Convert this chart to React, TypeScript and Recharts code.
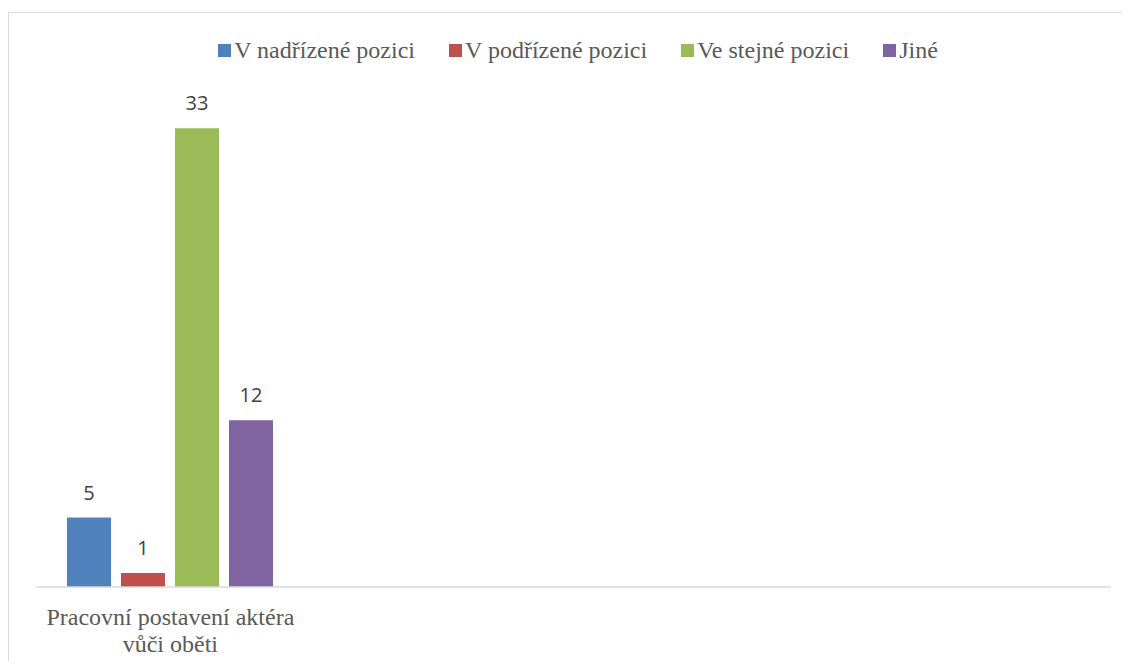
import React from "react";
import { BarChart, Bar, XAxis, YAxis, Legend, LabelList } from "recharts";

const categories = ["Pracovní postavení aktéra vůči oběti", " ", "  ", "   "];
const seriesNames = ["V nadřízené pozici", "V podřízené pozici", "Ve stejné pozici", "Jiné"];
const nadrizene = [5, null, null, null];
const podrizene = [1, null, null, null];
const stejne = [33, null, null, null];
const jine = [12, null, null, null];
const colors = ["#4F81BD", "#C0504D", "#9BBB59", "#8064A2"];

const keys = ["s0", "s1", "s2", "s3"];

const data = categories.map((c, i) => ({
  name: c,
  s0: nadrizene[i],
  s1: podrizene[i],
  s2: stejne[i],
  s3: jine[i],
}));

const SERIF = "Liberation Serif";
const SANS = "Open Sans";

function wrap(text: string, max: number): string[] {
  const words = text.split(" ").filter((w) => w.length > 0);
  const lines: string[] = [];
  let cur = "";
  for (const w of words) {
    const cand = cur ? cur + " " + w : w;
    if (cand.length > max && cur) {
      lines.push(cur);
      cur = w;
    } else {
      cur = cand;
    }
  }
  if (cur) lines.push(cur);
  return lines;
}

const CategoryTick = (props: any) => {
  const { x, y, payload } = props;
  const lines = wrap(String(payload.value || ""), 26);
  return (
    <g>
      {lines.map((l, i) => (
        <text
          key={i}
          x={x}
          y={y + 30 + i * 27}
          textAnchor="middle"
          fill="#595959"
          style={{ fontFamily: SERIF, fontSize: 24 }}
        >
          {l}
        </text>
      ))}
    </g>
  );
};

const ValueLabel = (props: any) => {
  const { x, y, width, value } = props;
  if (value === null || value === undefined) return null;
  return (
    <text
      x={x + width / 2}
      y={y - 18}
      textAnchor="middle"
      fill="#404040"
      style={{ fontFamily: SANS, fontSize: 20 }}
    >
      {value}
    </text>
  );
};

const LegendContent = () => (
  <div
    style={{
      display: "flex",
      justifyContent: "center",
      alignItems: "center",
      height: 28,
      paddingLeft: 18,
      boxSizing: "border-box",
    }}
  >
    {seriesNames.map((n, i) => (
      <div
        key={n}
        style={{
          display: "flex",
          alignItems: "center",
          marginRight: i < seriesNames.length - 1 ? 34 : 0,
        }}
      >
        <div style={{ width: 13, height: 13, background: colors[i], marginRight: 3 }} />
        <span style={{ fontFamily: SERIF, fontSize: 24, color: "#595959", whiteSpace: "nowrap" }}>{n}</span>
      </div>
    ))}
  </div>
);

export default function App() {
  return (
    <div style={{ width: 1122, height: 653, overflow: "hidden" }}>
      <div
        style={{
          marginTop: 4,
          width: 1130,
          height: 660,
          border: "1px solid #d9d9d9",
          background: "#fff",
        }}
      >
        <BarChart
          width={1120}
          height={650}
          data={data}
          margin={{ top: 59.5, right: 18, bottom: 6, left: 27 }}
          barCategoryGap={31}
          barGap={10}
        >
          <Legend
            verticalAlign="top"
            align="center"
            content={<LegendContent />}
            wrapperStyle={{ top: 23, left: 0, width: 1120, height: 28 }}
          />
          <XAxis
            dataKey="name"
            axisLine={{ stroke: "#d9d9d9", strokeWidth: 1.5 }}
            tickLine={false}
            tick={<CategoryTick />}
            height={70}
            interval={0}
          />
          <YAxis hide domain={[0, 35]} />
          {keys.map((k, i) => (
            <Bar key={k} dataKey={k} name={seriesNames[i]} fill={colors[i]} isAnimationActive={false}>
              <LabelList dataKey={k} content={<ValueLabel />} />
            </Bar>
          ))}
        </BarChart>
      </div>
    </div>
  );
}
